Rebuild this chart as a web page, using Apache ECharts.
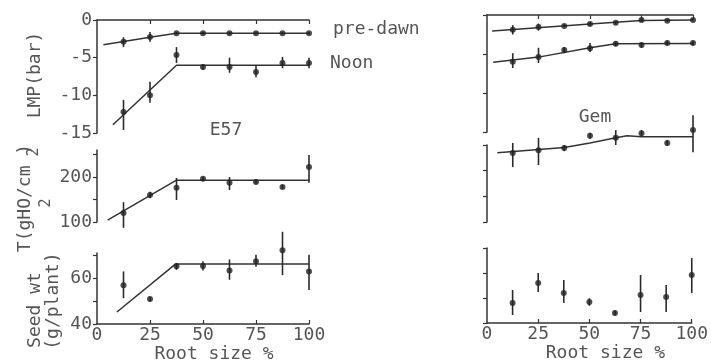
<!DOCTYPE html>
<html><head><meta charset="utf-8">
<script src="https://cdn.jsdelivr.net/npm/echarts@6/dist/echarts.min.js"></script>
<style>html,body{margin:0;padding:0;background:#fff}#c{width:711px;height:364px}</style>
</head><body><div id="c"></div>
<script>
// ---------- data ----------
const rootSize = [12.5, 25, 37.5, 50, 62.5, 75, 87.5, 100];
const xTickValues = [0, 25, 50, 75, 100];
const lmpTicks = [0, -5, -10, -15];
const tTicks = [100, 150, 200, 250];
const tLabels = [100, 200];
const seedTicks = [40, 50, 60, 70];
const seedLabels = [40, 60];

// E57 leaf water potential (bar)
const e57PreDawn   = [-2.9, -2.25, -1.75, -1.75, -1.75, -1.75, -1.75, -1.75];
const e57PreDawnLo = [-3.6, -2.9, -1.9, -1.9, -1.9, -1.9, -1.9, -1.9];
const e57PreDawnHi = [-2.3, -1.6, -1.6, -1.6, -1.6, -1.6, -1.6, -1.6];
const e57Noon   = [-12.2, -10.0, -4.65, -6.25, -6.25, -6.9, -5.7, -5.7];
const e57NoonLo = [-14.6, -11.0, -5.7, -6.6, -7.0, -7.6, -6.4, -6.4];
const e57NoonHi = [-10.6, -8.2, -3.6, -5.9, -5.0, -6.0, -4.9, -5.0];
const e57PreDawnFitX = [3, 25, 37.5, 100];
const e57PreDawnFitY = [-3.3, -2.3, -1.75, -1.75];
const e57NoonFitX = [7.5, 37.5, 100];
const e57NoonFitY = [-13.9, -6.0, -6.0];

// E57 transpiration
const e57T   = [120, 160, 176, 196, 187, 189, 178, 222];
const e57TLo = [87, 153, 149, 192, 171, 184, 174, 187];
const e57THi = [144, 167, 198, 200, 200, 194, 182, 249];
const e57TFitX = [5, 37.5, 100];
const e57TFitY = [104, 193, 193];

// E57 seed weight
const e57Seed   = [56.8, 50.8, 65, 65.2, 63.2, 67.2, 72, 62.8];
const e57SeedLo = [51.2, 49.8, 63.5, 63.2, 59.2, 64.8, 61.2, 54.8];
const e57SeedHi = [62.8, 51.8, 66.5, 67.2, 68, 70, 80, 70];
const e57SeedFitX = [9.4, 37, 100];
const e57SeedFitY = [45.2, 66, 66];

// Gem leaf water potential
const gemPreDawn   = [-1.9, -1.55, -1.4, -1.15, -1.0, -0.65, -0.75, -0.65];
const gemPreDawnLo = [-2.5, -2.0, -1.6, -1.4, -1.2, -0.9, -0.9, -0.8];
const gemPreDawnHi = [-1.3, -1.1, -1.2, -0.9, -0.8, -0.4, -0.6, -0.5];
const gemNoon   = [-6.0, -5.4, -4.5, -4.25, -3.7, -3.85, -3.6, -3.6];
const gemNoonLo = [-6.8, -6.15, -4.9, -4.75, -4.0, -4.2, -3.9, -3.9];
const gemNoonHi = [-4.9, -4.2, -4.1, -3.6, -3.4, -3.5, -3.3, -3.3];
const gemPreDawnFitX = [2.5, 50, 75, 100];
const gemPreDawnFitY = [-2.05, -1.15, -0.7, -0.65];
const gemNoonFitX = [3, 25, 50, 62.5, 100];
const gemNoonFitY = [-6.05, -5.4, -4.2, -3.7, -3.65];

// Gem transpiration
const gemT   = [234.5, 240, 244, 268, 264, 273, 254, 279];
const gemTLo = [207, 211, 238, 262, 250, 268, 248, 236];
const gemTHi = [254, 264, 250, 274, 279, 279, 260, 308];
const gemTFitX = [5, 37.5, 50, 62.5, 68, 75, 100];
const gemTFitY = [235, 245, 254, 264, 268, 266, 266];

// Gem seed weight
const gemSeed   = [48, 56, 52, 48.4, 44, 51.2, 50.4, 59.2];
const gemSeedLo = [43.2, 52.4, 48, 46.9, 43, 44.4, 44.4, 52];
const gemSeedHi = [53.2, 60, 57.2, 49.9, 45, 59.2, 55.2, 66];

// ---------- styling ----------
const INK = '#333';
const TXT = '#555';
const FONT = '"DejaVu Sans Mono", "Liberation Mono", monospace';

const grids = [
  {left: 97, width: 212, top: 20, height: 113},
  {left: 97, width: 212, top: 150, height: 72},
  {left: 97, width: 212, top: 253, height: 77},
  {left: 487, width: 206, top: 15, height: 117},
  {left: 487, width: 206, top: 145, height: 77},
  {left: 487, width: 206, top: 248, height: 75}
];

function xAx(i, kind, nameGap, namePad) {
  const base = {gridIndex: i, type: 'value', min: 0, max: 100,
    splitLine: {show: false}, axisLine: {onZero: false, lineStyle: {color: INK, width: 1.5}}};
  if (kind === 'top') {
    return Object.assign(base, {position: 'top',
      axisTick: {inside: true, length: 4, customValues: [25, 50, 75, 100], lineStyle: {color: INK, width: 1.2}},
      axisLabel: {show: false}});
  }
  if (kind === 'bottom') {
    return Object.assign(base, {position: 'bottom',
      axisTick: {inside: true, length: 4, customValues: [25, 50, 75, 100], lineStyle: {color: INK, width: 1.2}},
      axisLabel: {customValues: xTickValues, color: TXT, fontFamily: FONT, fontSize: 18, margin: 2},
      name: 'Root size %', nameLocation: 'middle', nameGap: nameGap,
      nameTextStyle: {color: TXT, fontFamily: FONT, fontSize: 18, padding: [0, 0, 0, namePad]}});
  }
  return Object.assign(base, {show: false});
}

function yAx(i, min, max, ticks, labels, showLabels) {
  return {gridIndex: i, type: 'value', min: min, max: max,
    splitLine: {show: false},
    axisLine: {show: true, lineStyle: {color: INK, width: 1.5}},
    axisTick: {show: true, length: 4, customValues: ticks, lineStyle: {color: INK, width: 1.2}},
    axisLabel: {show: showLabels, customValues: labels, color: TXT, fontFamily: FONT, fontSize: 18, margin: 5}};
}

function pts(xs, ys) { return xs.map((x, k) => [x, ys[k]]); }

function scatter(i, ys) {
  return {type: 'scatter', xAxisIndex: i, yAxisIndex: i, clip: false, silent: true,
    symbol: 'circle', symbolSize: 6, itemStyle: {color: '#222'}, data: pts(rootSize, ys), z: 4};
}
function errBars(i, lo, hi) {
  return {type: 'custom', xAxisIndex: i, yAxisIndex: i, clip: false, silent: true,
    encode: {x: 0, y: [1, 2]},
    data: rootSize.map((x, k) => [x, lo[k], hi[k]]),
    renderItem: function (params, api) {
      const a = api.coord([api.value(0), api.value(1)]);
      const b = api.coord([api.value(0), api.value(2)]);
      return {type: 'line', shape: {x1: a[0], y1: a[1], x2: b[0], y2: b[1]},
        style: {stroke: '#2a2a2a', lineWidth: 1.6}};
    }, z: 3};
}
function fit(i, xs, ys) {
  return {type: 'line', xAxisIndex: i, yAxisIndex: i, clip: false, silent: true,
    symbol: 'none', lineStyle: {color: INK, width: 1.5}, data: pts(xs, ys), z: 2};
}

const option = {
  animation: false,
  backgroundColor: '#fff',
  grid: grids,
  xAxis: [xAx(0, 'top'), xAx(1, 'none'), xAx(2, 'bottom', 21, 22), xAx(3, 'top'), xAx(4, 'none'), xAx(5, 'bottom', 20, 32)],
  yAxis: [
    yAx(0, -15, 0, lmpTicks, lmpTicks, true),
    yAx(1, 100, 260, tTicks, tLabels, true),
    yAx(2, 40, 70.8, seedTicks, seedLabels, true),
    yAx(3, -15, 0, lmpTicks, lmpTicks, false),
    yAx(4, 100, 250, tTicks, tLabels, false),
    yAx(5, 40, 70, seedTicks, seedLabels, false)
  ],
  series: [
    fit(0, e57PreDawnFitX, e57PreDawnFitY), errBars(0, e57PreDawnLo, e57PreDawnHi), scatter(0, e57PreDawn),
    fit(0, e57NoonFitX, e57NoonFitY), errBars(0, e57NoonLo, e57NoonHi), scatter(0, e57Noon),
    fit(1, e57TFitX, e57TFitY), errBars(1, e57TLo, e57THi), scatter(1, e57T),
    fit(2, e57SeedFitX, e57SeedFitY), errBars(2, e57SeedLo, e57SeedHi), scatter(2, e57Seed),
    fit(3, gemPreDawnFitX, gemPreDawnFitY), errBars(3, gemPreDawnLo, gemPreDawnHi), scatter(3, gemPreDawn),
    fit(3, gemNoonFitX, gemNoonFitY), errBars(3, gemNoonLo, gemNoonHi), scatter(3, gemNoon),
    fit(4, gemTFitX, gemTFitY), errBars(4, gemTLo, gemTHi), scatter(4, gemT),
    errBars(5, gemSeedLo, gemSeedHi), scatter(5, gemSeed)
  ],
  graphic: [
    {type: 'text', x: 35, y: 75, rotation: Math.PI / 2,
      style: {text: 'LMP(bar)', fill: TXT, font: '18px ' + FONT, align: 'center', verticalAlign: 'middle'}},
    {type: 'text', x: 25, y: 198, rotation: Math.PI / 2,
      style: {text: 'T(gHO/cm )', fill: TXT, font: '18px ' + FONT, align: 'center', verticalAlign: 'middle'}},
    {type: 'text', x: 34, y: 152, rotation: Math.PI / 2,
      style: {text: '2', fill: TXT, font: '15px ' + FONT, align: 'center', verticalAlign: 'middle'}},
    {type: 'text', x: 46, y: 203, rotation: Math.PI / 2,
      style: {text: '2', fill: TXT, font: '15px ' + FONT, align: 'center', verticalAlign: 'middle'}},
    {type: 'text', x: 35, y: 310, rotation: Math.PI / 2,
      style: {text: 'Seed wt', fill: TXT, font: '18px ' + FONT, align: 'center', verticalAlign: 'middle'}},
    {type: 'text', x: 53, y: 301, rotation: Math.PI / 2,
      style: {text: '(g/plant)', fill: TXT, font: '18px ' + FONT, align: 'center', verticalAlign: 'middle'}},
    {type: 'text', x: 333, y: 29,
      style: {text: 'pre-dawn', fill: TXT, font: '18px ' + FONT, align: 'left', verticalAlign: 'middle'}},
    {type: 'text', x: 330, y: 63,
      style: {text: 'Noon', fill: TXT, font: '18px ' + FONT, align: 'left', verticalAlign: 'middle'}},
    {type: 'text', x: 226, y: 130,
      style: {text: 'E57', fill: TXT, font: '18px ' + FONT, align: 'center', verticalAlign: 'middle'}},
    {type: 'text', x: 595, y: 117,
      style: {text: 'Gem', fill: TXT, font: '18px ' + FONT, align: 'center', verticalAlign: 'middle'}}
  ]
};

const chart = echarts.init(document.getElementById('c'), null, {renderer: 'canvas'});
chart.setOption(option);
</script></body></html>
